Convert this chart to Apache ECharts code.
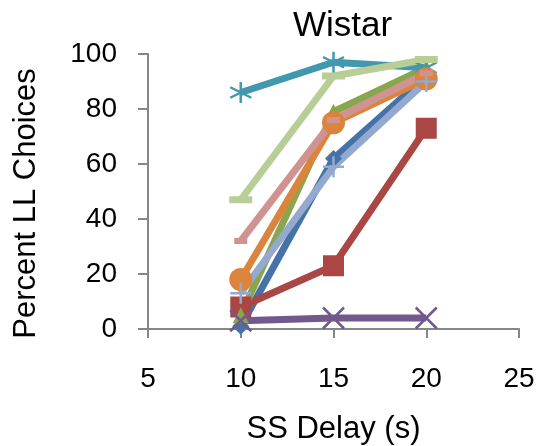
<!DOCTYPE html>
<html>
<head>
<meta charset="utf-8">
<script src="https://cdn.jsdelivr.net/npm/echarts@6/dist/echarts.min.js"></script>
<style>
  html, body { margin: 0; padding: 0; background: #fff; }
  #chart { width: 539px; height: 446px; }
</style>
</head>
<body>
<div id="chart"></div>
<script>
// SS delays (s) tested in each session block
const delays = [10, 15, 20];

// Percent of large-later choices per rat
const rat1 = [1, 62, 92];
const rat2 = [8, 23, 73];
const rat3 = [5, 79, 95];
const rat4 = [3, 4, 4];
const rat5 = [86, 97, 95];
const rat6 = [18, 75, 91];
const rat7 = [13, 59, 90];
const rat8 = [32, 76, 93];
const rat9 = [47, 92, 98];

const xTicks = [5, 10, 15, 20, 25];
const yTicks = [0, 20, 40, 60, 80, 100];

const STAR = 'path://M10,0 L10,20 M1.3,5 L18.7,15 M1.3,15 L18.7,5';
const CROSS = 'path://M0,0 L20,20 M20,0 L0,20';
const PLUS = 'path://M10,0 L10,20 M0,10 L20,10';

const FONT = 'Liberation Sans, Arial, sans-serif';

function pts(vals) { return delays.map((d, i) => [d, vals[i]]); }

function makeSeries(vals, color, symbol, size, stroke) {
  return {
    type: 'line',
    data: pts(vals),
    symbol: symbol,
    symbolSize: size,
    showSymbol: true,
    lineStyle: { color: color, width: 7 },
    itemStyle: stroke
      ? { color: 'rgba(0,0,0,0)', borderColor: color, borderWidth: 2.5 }
      : { color: color, borderWidth: 0 },
    emphasis: { disabled: true },
    animation: false,
    z: 2
  };
}

const chart = echarts.init(document.getElementById('chart'));
chart.setOption({
  backgroundColor: '#ffffff',
  title: {
    text: 'Wistar',
    left: 288,
    top: 4,
    textStyle: { fontFamily: FONT, fontSize: 35, fontWeight: 'normal', color: '#000' }
  },
  grid: { left: 148, right: 20, top: 54, bottom: 117, containLabel: false, outerBoundsMode: 'none' },
  xAxis: {
    type: 'value',
    min: xTicks[0],
    max: xTicks[xTicks.length - 1],
    interval: xTicks[1] - xTicks[0],
    name: 'SS Delay (s)',
    nameLocation: 'middle',
    nameGap: 85,
    nameTextStyle: { fontFamily: FONT, fontSize: 31, color: '#000' },
    axisLine: { show: true, onZero: false, lineStyle: { color: '#868686', width: 2 } },
    axisTick: { show: true, inside: false, length: 9, lineStyle: { color: '#868686', width: 2 } },
    axisLabel: { margin: 36, fontFamily: FONT, fontSize: 28, color: '#000' },
    splitLine: { show: false }
  },
  yAxis: {
    type: 'value',
    min: yTicks[0],
    max: yTicks[yTicks.length - 1],
    interval: yTicks[1] - yTicks[0],
    name: 'Percent LL Choices',
    nameLocation: 'middle',
    nameGap: 106,
    nameTextStyle: { fontFamily: FONT, fontSize: 31, color: '#000', padding: [0, 24, 0, 0] },
    axisLine: { show: true, lineStyle: { color: '#868686', width: 2 } },
    axisTick: { show: true, inside: false, length: 10, lineStyle: { color: '#868686', width: 2 } },
    axisLabel: { margin: 31, fontFamily: FONT, fontSize: 28, color: '#000' },
    splitLine: { show: false }
  },
  series: [
    makeSeries(rat1, '#4572A7', 'diamond', 17, false),
    makeSeries(rat2, '#AA4643', 'rect', 21, false),
    makeSeries(rat3, '#89A54E', 'triangle', 16, false),
    makeSeries(rat4, '#71588F', CROSS, 21, true),
    makeSeries(rat5, '#4198AF', STAR, 21, true),
    makeSeries(rat6, '#DB843D', 'circle', 23, false),
    makeSeries(rat7, '#93A9CF', PLUS, 21, true),
    makeSeries(rat8, '#D19392', 'rect', [13, 6], false),
    makeSeries(rat9, '#B9CD96', 'rect', [23, 7], false)
  ]
});
</script>
</body>
</html>
